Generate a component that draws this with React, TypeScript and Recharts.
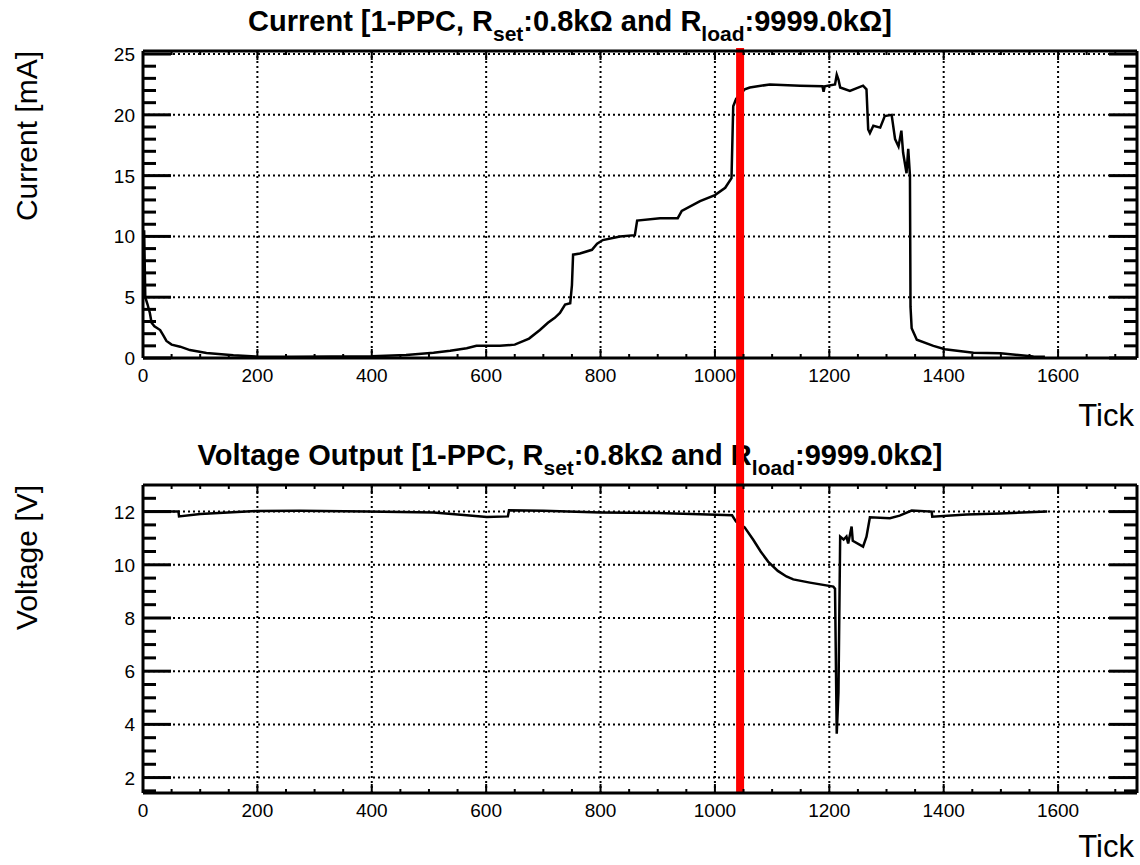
import { LineChart, Line, XAxis, YAxis, ReferenceLine } from 'recharts';

const FONT = '"Liberation Sans", Arial, Helvetica, sans-serif';

// current trace [mA] vs tick
const CUR_T = [
  2, 4, 8, 12, 15, 20, 30, 35, 41, 50, 65, 82, 111, 158, 199, 260, 330, 400, 460, 508,
  537, 566, 583, 624, 650, 675, 694, 708, 720, 729, 738, 747, 750, 752, 764, 785, 794, 804, 834, 860,
  864, 904, 935, 942, 974, 1000, 1018, 1029, 1032, 1037, 1052, 1061, 1096, 1149, 1188, 1190, 1192, 1210, 1213, 1216,
  1219, 1236, 1259, 1265, 1268, 1271, 1277, 1289, 1297, 1309, 1315, 1321, 1326, 1329, 1335, 1338, 1341, 1342, 1344, 1353,
  1382, 1402, 1452, 1499, 1557, 1577,
];
const CUR_MA = [
  10.5, 5.0, 4.4, 3.7, 2.9, 2.6, 2.3, 1.9, 1.4, 1.1, 0.93, 0.65, 0.42, 0.22, 0.12, 0.1, 0.12, 0.15, 0.25, 0.44,
  0.6, 0.8, 1.0, 1.0, 1.1, 1.6, 2.3, 2.9, 3.3, 3.7, 4.4, 4.5, 6.0, 8.5, 8.6, 8.9, 9.4, 9.7, 10.0, 10.1,
  11.3, 11.5, 11.5, 12.1, 12.9, 13.4, 14.0, 14.8, 20.7, 21.3, 22.1, 22.25, 22.5, 22.4, 22.35, 21.9, 22.35, 22.5, 23.3, 22.9,
  22.25, 21.97, 22.4, 22.1, 18.8, 18.5, 19.1, 18.95, 19.9, 20.0, 18.0, 17.4, 18.7, 16.9, 15.2, 17.2, 15.0, 4.2, 2.45, 1.5,
  1.0, 0.72, 0.44, 0.39, 0.12, 0.1,
];

// voltage output [V] vs tick, lower pad
const VOLT_T = [
  0, 62, 63, 100, 199, 274, 391, 508, 566, 601, 638, 640, 700, 800, 900, 974, 1030, 1037, 1052, 1067,
  1080, 1093, 1110, 1125, 1137, 1166, 1207, 1210, 1213, 1216, 1219, 1225, 1230, 1233, 1239, 1241, 1259, 1265, 1271, 1306,
  1323, 1344, 1379, 1380, 1440, 1499, 1581,
];
const VOLT_V = [
  12.0, 12.0, 11.82, 11.91, 12.02, 12.03, 12.0, 11.97, 11.86, 11.8, 11.82, 12.05, 12.03, 11.97, 11.95, 11.9, 11.86, 11.62, 11.41, 10.94,
  10.5, 10.12, 9.77, 9.56, 9.45, 9.33, 9.18, 9.1, 3.65, 5.2, 11.06, 10.95, 11.06, 10.8, 11.44, 10.9, 10.68, 11.06, 11.79, 11.75,
  11.85, 12.04, 12.0, 11.81, 11.89, 11.93, 12.0,
];

const MARKER_TICK = 1044;

const X_DOMAIN = [0, 1738];
const X_MAJOR = [0, 200, 400, 600, 800, 1000, 1200, 1400, 1600];
const X_MINOR = Array.from({ length: 35 }, (_, i) => i * 50);

const CUR_DOMAIN = [0, 25.25];
const CUR_MAJOR = [0, 5, 10, 15, 20, 25];
const CUR_MINOR = Array.from({ length: 26 }, (_, i) => i);

const VOLT_DOMAIN = [1.42, 13.0];
const VOLT_MAJOR = [2, 4, 6, 8, 10, 12];
const VOLT_MINOR = Array.from({ length: 23 }, (_, i) => 1.5 + i * 0.5);

const curData = CUR_T.map((t, i) => ({ t, v: CUR_MA[i] }));
const voltData = VOLT_T.map((t, i) => ({ t, v: VOLT_V[i] }));

const frame = { stroke: '#000', strokeWidth: 3 };

const xTick = (edge: 'bottom' | 'top') => (p: any) => {
  const major = X_MAJOR.includes(p.payload.value);
  const len = major ? 9 : 4;
  const dir = edge === 'bottom' ? -1 : 1;
  return (
    <g>
      <line x1={p.x} x2={p.x} y1={p.y} y2={p.y + dir * len} stroke="#000" strokeWidth={2} />
      {edge === 'bottom' && major && (
        <text x={p.x} y={p.y + 24} textAnchor="middle" fontSize={19} fontFamily={FONT} fill="#000">
          {p.payload.value}
        </text>
      )}
    </g>
  );
};

const yTick = (majors: number[], edge: 'left' | 'right') => (p: any) => {
  const major = majors.includes(p.payload.value);
  const len = major ? 28 : 13;
  const dir = edge === 'left' ? 1 : -1;
  return (
    <g>
      <line x1={p.x} x2={p.x + dir * len} y1={p.y} y2={p.y} stroke="#000" strokeWidth={3} />
      {edge === 'left' && major && (
        <text x={p.x - 8} y={p.y + 7} textAnchor="end" fontSize={19} fontFamily={FONT} fill="#000">
          {p.payload.value}
        </text>
      )}
    </g>
  );
};

const marker = (top: number, bottom: number | null) => (p: any) => {
  const yTop = Math.min(p.y1, p.y2);
  const yBot = Math.max(p.y1, p.y2);
  return (
    <line
      x1={p.x1}
      x2={p.x2}
      y1={top < 0 ? yTop + top : top}
      y2={bottom == null ? yBot : bottom}
      stroke="#ff0000"
      strokeWidth={8}
    />
  );
};

function Panel({ data, yDomain, yMajor, yMinor, height, margin, redTop, redBottom }: any) {
  return (
    <LineChart width={1140} height={height} data={data} margin={margin}>
      {X_MAJOR.slice(1).map((x) => (
        <ReferenceLine key={'gx' + x} xAxisId="b" yAxisId="l" x={x} stroke="#000" strokeWidth={2} strokeDasharray="2 3" />
      ))}
      {yMajor.map((y: number) => (
        <ReferenceLine key={'gy' + y} xAxisId="b" yAxisId="l" y={y} stroke="#000" strokeWidth={2} strokeDasharray="2 3" />
      ))}
      <XAxis
        xAxisId="b"
        type="number"
        dataKey="t"
        domain={X_DOMAIN}
        allowDataOverflow
        ticks={X_MINOR}
        interval={0}
        tickSize={0}
        tickMargin={0}
        tickLine={false}
        tick={xTick('bottom')}
        axisLine={frame}
        height={40}
      />
      <XAxis
        xAxisId="t"
        orientation="top"
        type="number"
        dataKey="t"
        domain={X_DOMAIN}
        allowDataOverflow
        ticks={X_MINOR}
        interval={0}
        tickSize={0}
        tickMargin={0}
        tickLine={false}
        tick={xTick('top')}
        axisLine={frame}
        height={1}
      />
      <YAxis
        yAxisId="l"
        type="number"
        domain={yDomain}
        allowDataOverflow
        ticks={yMinor}
        interval={0}
        tickSize={0}
        tickMargin={0}
        tickLine={false}
        tick={yTick(yMajor, 'left')}
        axisLine={frame}
        width={60}
      />
      <YAxis
        yAxisId="r"
        orientation="right"
        type="number"
        domain={yDomain}
        allowDataOverflow
        ticks={yMinor}
        interval={0}
        tickSize={0}
        tickMargin={0}
        tickLine={false}
        tick={yTick(yMajor, 'right')}
        axisLine={frame}
        width={1}
      />
      <Line
        xAxisId="b"
        yAxisId="l"
        type="linear"
        dataKey="v"
        stroke="#000"
        strokeWidth={2.5}
        dot={false}
        isAnimationActive={false}
      />
      <ReferenceLine
        xAxisId="b"
        yAxisId="l"
        x={MARKER_TICK}
        stroke="#ff0000"
        strokeWidth={8}
        shape={marker(redTop, redBottom)}
      />
    </LineChart>
  );
}

export default function App() {
  const titleStyle = { fontFamily: FONT, fontWeight: 700, fontSize: 29, fill: '#000' } as const;
  const axisTitle = { fontFamily: FONT, fontSize: 30, fill: '#000' } as const;
  return (
    <div style={{ position: 'absolute', left: 0, top: 0, width: 1140, height: 865, background: '#fff' }}>
      <svg width={1140} height={865} style={{ position: 'absolute', left: 0, top: 0 }}>
        <text x={570} y={31} textAnchor="middle" style={titleStyle}>
          Current [1-PPC, R
          <tspan dy={10} fontSize={21}>set</tspan>
          <tspan dy={-10}>:0.8kΩ and R</tspan>
          <tspan dy={10} fontSize={21}>load</tspan>
          <tspan dy={-10}>:9999.0kΩ]</tspan>
        </text>
        <text x={570} y={465} textAnchor="middle" style={titleStyle}>
          Voltage Output [1-PPC, R
          <tspan dy={10} fontSize={21}>set</tspan>
          <tspan dy={-10}>:0.8kΩ and R</tspan>
          <tspan dy={10} fontSize={21}>load</tspan>
          <tspan dy={-10}>:9999.0kΩ]</tspan>
        </text>
        <text transform="translate(37,51) rotate(-90)" textAnchor="end" style={axisTitle}>
          Current [mA]
        </text>
        <text transform="translate(37,485) rotate(-90)" textAnchor="end" style={axisTitle}>
          Voltage [V]
        </text>
        <text x={1134} y={426} textAnchor="end" style={{ ...axisTitle, fontSize: 31 }}>
          Tick
        </text>
        <text x={1134} y={857} textAnchor="end" style={{ ...axisTitle, fontSize: 31 }}>
          Tick
        </text>
      </svg>
      <div style={{ position: 'absolute', left: 0, top: 0 }}>
        <Panel
          data={curData}
          yDomain={CUR_DOMAIN}
          yMajor={CUR_MAJOR}
          yMinor={CUR_MINOR}
          height={440}
          margin={{ top: 50, right: 2, bottom: 42, left: 83 }}
          redTop={-3}
          redBottom={440}
        />
      </div>
      <div style={{ position: 'absolute', left: 0, top: 440 }}>
        <Panel
          data={voltData}
          yDomain={VOLT_DOMAIN}
          yMajor={VOLT_MAJOR}
          yMinor={VOLT_MINOR}
          height={425}
          margin={{ top: 44, right: 2, bottom: 32, left: 83 }}
          redTop={0}
          redBottom={null}
        />
      </div>
    </div>
  );
}
